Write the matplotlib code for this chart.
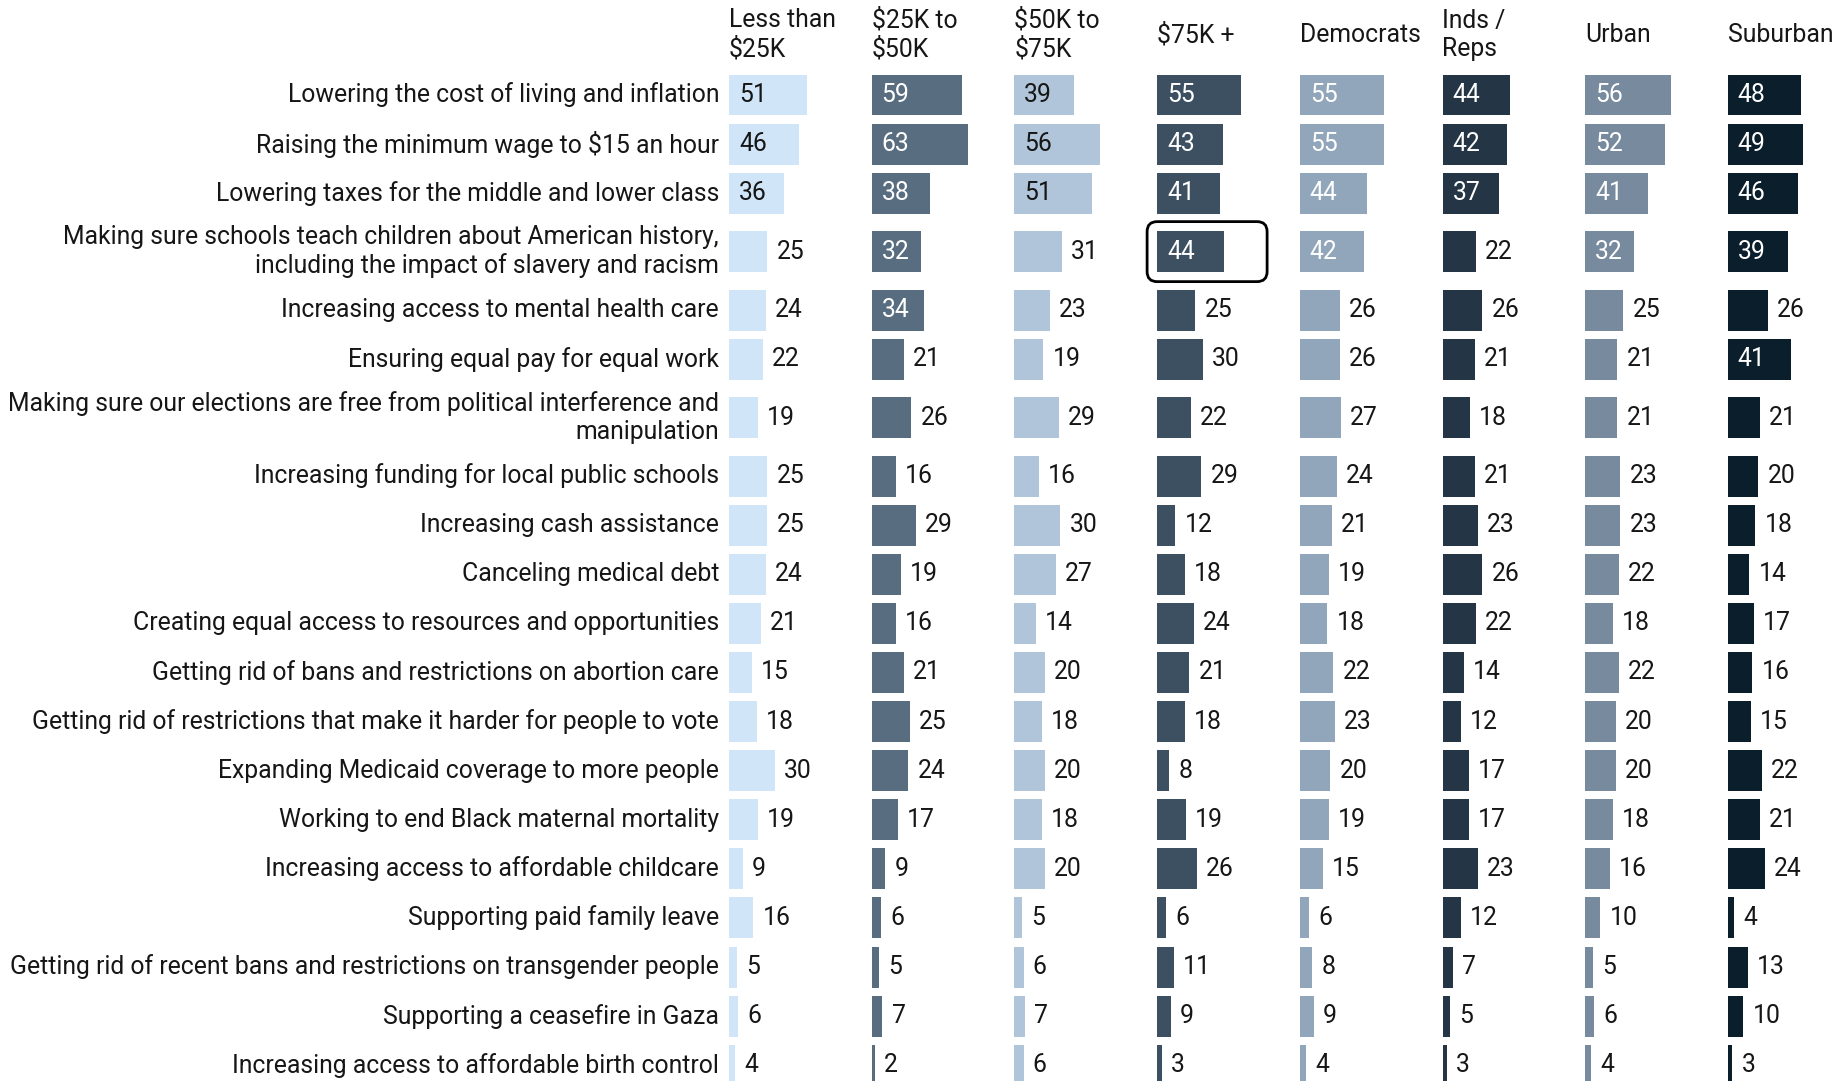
import matplotlib.pyplot as plt
from matplotlib.patches import FancyBboxPatch
import numpy as np

plt.rcParams['font.family'] = ['Roboto', 'DejaVu Sans']

# columns (groups) and their bar colours
groups = ['Less than\n$25K', '$25K to\n$50K', '$50K to\n$75K', '$75K +',
          'Democrats', 'Inds /\nReps', 'Urban', 'Suburban']
colors = ['#d0e6f8', '#596d80', '#b0c5d9', '#3d5062',
          '#91a6ba', '#243645', '#778a9e', '#0a1f2b']
label_dark = [True, False, True, False, False, False, False, False]

issues = [
    'Lowering the cost of living and inflation',
    'Raising the minimum wage to $15 an hour',
    'Lowering taxes for the middle and lower class',
    'Making sure schools teach children about American history,\nincluding the impact of slavery and racism',
    'Increasing access to mental health care',
    'Ensuring equal pay for equal work',
    'Making sure our elections are free from political interference and\nmanipulation',
    'Increasing funding for local public schools',
    'Increasing cash assistance',
    'Canceling medical debt',
    'Creating equal access to resources and opportunities',
    'Getting rid of bans and restrictions on abortion care',
    'Getting rid of restrictions that make it harder for people to vote',
    'Expanding Medicaid coverage to more people',
    'Working to end Black maternal mortality',
    'Increasing access to affordable childcare',
    'Supporting paid family leave',
    'Getting rid of recent bans and restrictions on transgender people',
    'Supporting a ceasefire in Gaza',
    'Increasing access to affordable birth control',
]

less_25k  = [51, 46, 36, 25, 24, 22, 19, 25, 25, 24, 21, 15, 18, 30, 19, 9, 16, 5, 6, 4]
k25_50    = [59, 63, 38, 32, 34, 21, 26, 16, 29, 19, 16, 21, 25, 24, 17, 9, 6, 5, 7, 2]
k50_75    = [39, 56, 51, 31, 23, 19, 29, 16, 30, 27, 14, 20, 18, 20, 18, 20, 5, 6, 7, 6]
k75_plus  = [55, 43, 41, 44, 25, 30, 22, 29, 12, 18, 24, 21, 18, 8, 19, 26, 6, 11, 9, 3]
democrats = [55, 55, 44, 42, 26, 26, 27, 24, 21, 19, 18, 22, 23, 20, 19, 15, 6, 8, 9, 4]
inds_reps = [44, 42, 37, 22, 26, 21, 18, 21, 23, 26, 22, 14, 12, 17, 17, 23, 12, 7, 5, 3]
urban     = [56, 52, 41, 32, 25, 21, 21, 23, 23, 22, 18, 22, 20, 20, 18, 16, 10, 5, 6, 4]
suburban  = [48, 49, 46, 39, 26, 41, 21, 20, 18, 14, 17, 16, 15, 22, 21, 24, 4, 13, 10, 3]

series = [less_25k, k25_50, k50_75, k75_plus, democrats, inds_reps, urban, suburban]

# highlighted cell: (issue index, group index)
highlight = (3, 3)

W, H = 1841, 1081
fig = plt.figure(figsize=(W / 100, H / 100), dpi=100)

px_per_unit = 1.53      # bar length scale (pixels per percentage point)
row_px = 49.1           # pixels per row step
top_px = 95.0           # centre of first row
col0_px = 729
col_step = 142.7
axw_px = 140

# row positions: two-line labels get extra room on both sides
ypos = []
y = 0.0
for i, lab in enumerate(issues):
    if i > 0:
        y += 1.0
        if '\n' in lab or '\n' in issues[i - 1]:
            y += 0.19
    ypos.append(y)
ypos = np.array(ypos)

ylim = ((H - top_px) / row_px, -top_px / row_px)
fs = 17.8
txt = '#161616'

for j, (name, vals) in enumerate(zip(groups, series)):
    left = (col0_px + j * col_step) / W
    ax = fig.add_axes([left, 0, axw_px / W, 1])
    ax.set_xlim(0, axw_px / px_per_unit)
    ax.set_ylim(*ylim)
    ax.axis('off')
    ax.barh(ypos, vals, height=0.835, color=colors[j], edgecolor='none')
    for yy, v in zip(ypos, vals):
        if v >= 32:
            ax.text(6.5, yy, str(v), va='center', ha='left', fontsize=fs,
                    color=txt if label_dark[j] else 'white')
        else:
            ax.text(v + 6.0, yy, str(v), va='center', ha='left', fontsize=fs,
                    color=txt)
    ax.text(0, (35 - top_px) / row_px, name, va='center', ha='left',
            fontsize=fs, color=txt, linespacing=1.25)

    if j == 0:
        for yy, lab in zip(ypos, issues):
            ax.text(-10 / px_per_unit, yy, lab, va='center', ha='right',
                    fontsize=fs, color=txt, linespacing=1.23)

    if j == highlight[1]:
        r = highlight[0]
        bw = 120 / px_per_unit
        bh = 60 / row_px
        box = FancyBboxPatch((-10 / px_per_unit, ypos[r] - bh / 2), bw, bh,
                             boxstyle='round,pad=0,rounding_size=%.2f' % (10 / px_per_unit),
                             mutation_aspect=px_per_unit / row_px,
                             fill=False, edgecolor='black', linewidth=2.0,
                             clip_on=False)
        ax.add_patch(box)

fig.savefig('out.png', dpi=100, facecolor='white')
